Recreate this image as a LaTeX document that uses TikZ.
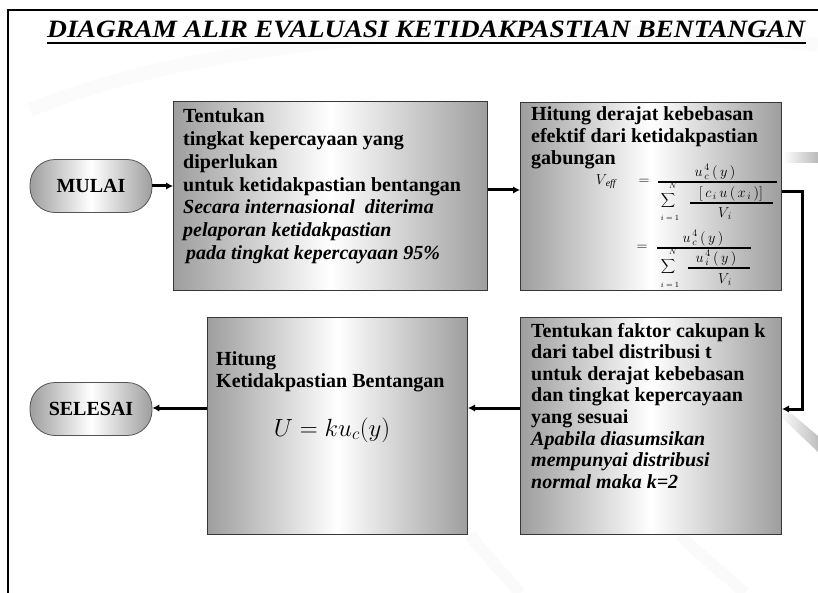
\documentclass[tikz,border=0pt]{standalone}
\usepackage{fontspec}
\usepackage{graphicx}
\setmainfont{Liberation Serif}
\usetikzlibrary{arrows.meta,calc}
\definecolor{boxgray}{RGB}{158,158,158}
\definecolor{edgegray}{RGB}{55,55,55}
\begin{document}
\begin{tikzpicture}[x=1pt,y=-1pt,
  proc/.style={draw=edgegray, line width=1pt, left color=boxgray, right color=boxgray, middle color=white, anchor=north west, inner sep=0pt},
  term/.style={draw=edgegray!85, line width=0.8pt, left color=boxgray, right color=boxgray, middle color=white, rounded corners=25pt, minimum width=122pt, minimum height=53pt, inner sep=0pt, font=\fontsize{20}{24}\selectfont\bfseries},
  flow/.style={line width=3pt, -{Latex[length=7pt,width=7.5pt]}},
  txt/.style={anchor=base west, inner sep=0pt, font=\fontsize{20}{24}\selectfont\bfseries},
  itx/.style={anchor=base west, inner sep=0pt, font=\fontsize{20}{24}\selectfont\bfseries\itshape},
  fm/.style={inner sep=0pt, font=\fontsize{14}{16}\selectfont},
  fs/.style={inner sep=0pt, font=\fontsize{8}{9}\selectfont},
  sg/.style={inner sep=0pt, font=\fontsize{16}{18}\selectfont},
  bar/.style={line width=1.1pt}
]
\useasboundingbox (0,0) rectangle (818,593);
% faint background swooshes
\draw[gray!3, line width=14pt] (30,110) .. controls (250,20) and (600,20) .. (818,45);
\draw[gray!4, line width=12pt] (470,535) .. controls (490,560) and (505,575) .. (520,593);
\draw[gray!4, line width=12pt] (680,535) .. controls (705,560) and (725,575) .. (745,593);
\shade[left color=white, right color=gray!55] (783,153) rectangle (818,163);
\shade[left color=white, right color=gray!50] (778,414) -- (792,414) -- (818,436) -- (818,452) -- cycle;

% frame
\draw[line width=2pt] (8,593) -- (8,10) -- (818,10);

% title
\node[anchor=south west, inner sep=0pt] (title) at (47,38)
  {\resizebox{758pt}{16.5pt}{\bfseries\itshape DIAGRAM ALIR EVALUASI KETIDAKPASTIAN BENTANGAN}};
\draw[line width=2pt] ([yshift=-5pt]title.south west) -- ([yshift=-5pt]title.south east);

% terminals
\node[term] (mulai) at (91,186) {MULAI};
\node[term] (selesai) at (91,409) {SELESAI};

% process boxes
\node[proc, minimum width=314pt, minimum height=189pt] (b1) at (173,101) {};
\node[proc, minimum width=261pt, minimum height=188pt] (b2) at (520,102) {};
\node[proc, minimum width=261pt, minimum height=217pt] (b3) at (520,317) {};
\node[proc, minimum width=260pt, minimum height=217pt] (b4) at (207,317) {};

% box 1 text
\foreach \t [count=\i] in {Tentukan, tingkat kepercayaan yang, diperlukan, untuk ketidakpastian bentangan}
  \node[txt] (bA\i) at (183,{123+22.7*(\i-1)}) {\t};
\foreach \t [count=\i] in {Secara internasional\ \ diterima, pelaporan ketidakpastian, \hspace{3pt}pada tingkat kepercayaan 95\%}
  \node[itx] (bB\i) at (183,{123+22.7*(\i+3)}) {\t};

% box 2 text
\foreach \t [count=\i] in {Hitung derajat kebebasan, efektif dari ketidakpastian, gabungan}
  \node[txt] (bC\i) at (531,{121+21.8*(\i-1)}) {\t};
% formula in box 2
\node[fm] (veff) at (606,182) {$V_{\,\mathit{eff}}$};
\node[fm] (eq1) at (644,182) {$=$};
\node[fm] (n1) at (715,172) {$u_{\,c}^{\,4}\,(\,y\,)$};
\draw[bar] (658,182) -- (777,182);
\node[sg] (s1) at (668,201) {$\displaystyle\sum$};
\node[fs] (s1N) at (673,186) {$N$};
\node[fs] (s1i) at (670,218) {$i=1$};
\node[fm] (in1) at (731,194) {$[\,c_{\,i}\,u\,(\,x_{\,i}\,)]$};
\draw[bar] (690,203) -- (773,203);
\node[fm] (v1) at (725,214) {$V_{\,i}$};
\node[fm] (eq2) at (642,248) {$=$};
\node[fm] (n2) at (703,238) {$u_{\,c}^{\,4}\,(\,y\,)$};
\draw[bar] (657,248) -- (751,248);
\node[sg] (s2) at (668,267) {$\displaystyle\sum$};
\node[fs] (s2N) at (673,252) {$N$};
\node[fs] (s2i) at (670,285) {$i=1$};
\node[fm] (in2) at (716,258) {$u_{\,i}^{\,4}\,(\,y\,)$};
\draw[bar] (688,268) -- (750,268);
\node[fm] (v2) at (725,280) {$V_{\,i}$};

% box 3 text
\foreach \t [count=\i] in {Tentukan faktor cakupan k, dari tabel distribusi t, untuk derajat kebebasan, dan tingkat kepercayaan, yang sesuai}
  \node[txt] (bD\i) at (531,{337+21.6*(\i-1)}) {\t};
\foreach \t [count=\i] in {Apabila diasumsikan, mempunyai distribusi, normal maka k=2}
  \node[itx] (bE\i) at (531,{337+21.6*(\i+4)}) {\t};

% box 4 text
\node[txt] (bF1) at (216,365) {Hitung};
\node[txt] (bF2) at (216,387) {Ketidakpastian Bentangan};
\node[anchor=base, inner sep=0pt, font=\fontsize{24}{28}\selectfont] (uform) at (332,436) {$U = ku_c(y)$};

% connectors
\coordinate (r1) at (0,190);
\coordinate (k1) at (802,192);
\coordinate (k2) at (802,409);
\coordinate (r4) at (0,408);
\draw[flow] (mulai.east) -- (mulai.east -| b1.west);
\draw[flow] (b1.east |- r1) -- (b2.west |- r1);
\draw[flow] (b2.east |- k1) -- (k1) -- (k2) -- (b3.east |- k2);
\draw[flow] (b3.west |- r4) -- (b4.east |- r4);
\draw[flow] (b4.west |- r4) -- (selesai.east |- r4);
\end{tikzpicture}
\end{document}
